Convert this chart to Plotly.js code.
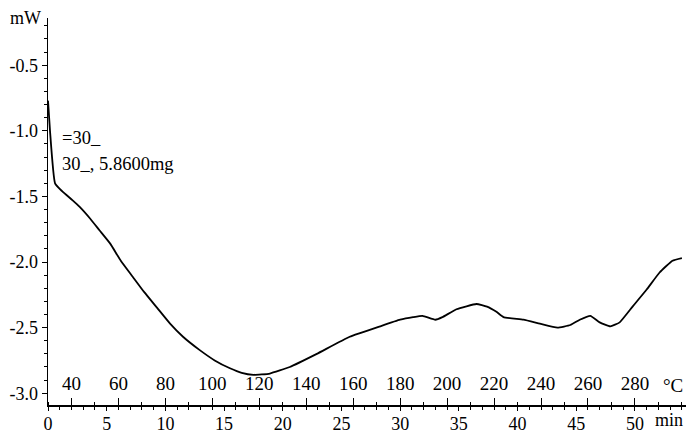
<!DOCTYPE html>
<html>
<head>
<meta charset="utf-8">
<script src="https://cdn.plot.ly/plotly-3.0.1.min.js"></script>
<style>html,body{margin:0;padding:0;background:#fff;}</style>
</head>
<body>
<div id="chart" style="width:687px;height:436px;"></div>
<script>
// Time (min) and heat flow (mW)
const timeMin = [0, 0.17, 0.6, 1.2, 2.1, 2.7, 3.6, 4.4, 5.3, 6.2, 7.2, 8.2, 9.3, 10.4, 11.5, 12.9, 14.2, 15.5, 16.5, 17.5, 18.9, 20.6, 22.9, 25.7, 28.3, 30.0, 31.1, 31.9, 33.0, 33.6, 34.8, 36.5, 37.4, 38.2, 38.8, 40.5, 41.9, 43.4, 44.5, 45.3, 46.2, 47.0, 47.9, 48.7, 49.8, 51.0, 52.1, 53.2, 54.0];
const heatFlow = [-0.77, -1.00, -1.40, -1.46, -1.53, -1.58, -1.67, -1.76, -1.86, -1.99, -2.11, -2.23, -2.35, -2.47, -2.57, -2.67, -2.75, -2.81, -2.845, -2.86, -2.85, -2.80, -2.70, -2.57, -2.49, -2.44, -2.42, -2.41, -2.44, -2.42, -2.36, -2.32, -2.34, -2.38, -2.42, -2.44, -2.47, -2.50, -2.48, -2.44, -2.41, -2.46, -2.49, -2.46, -2.34, -2.21, -2.08, -1.99, -1.97];
const minuteTicks = [0, 5, 10, 15, 20, 25, 30, 35, 40, 45, 50];
const tempTicks = [40, 60, 80, 100, 120, 140, 160, 180, 200, 220, 240, 260, 280];
const yTickVals = [-3.0, -2.5, -2.0, -1.5, -1.0, -0.5];
const yTickText = ['-3.0', '-2.5', '-2.0', '-1.5', '-1.0', '-0.5'];
const startTemp = 30, heatRate = 5;
const xRange = [0, 54.35];
const yRange = [-3.09, -0.14];

const trace = {
  x: timeMin, y: heatFlow, type: 'scatter', mode: 'lines',
  line: {color: '#000', width: 1.8, shape: 'spline', smoothing: 0.4},
  hoverinfo: 'skip', showlegend: false
};

const font = {family: 'Liberation Serif, Times New Roman, serif', size: 18, color: '#000'};

const layout = {
  width: 687, height: 436,
  margin: {l: 48, r: 1, t: 18, b: 31, pad: 0},
  paper_bgcolor: '#fff', plot_bgcolor: '#fff',
  font: font, showlegend: false,
  xaxis: {
    range: xRange, tickvals: minuteTicks, ticktext: minuteTicks.map(String),
    ticks: 'outside', ticklen: 4, tickwidth: 1, tickcolor: '#000',
    showline: true, linewidth: 2, linecolor: '#000',
    showgrid: false, zeroline: false, tickfont: {size: 18},
    ticklabelstandoff: -3,
    minor: {dtick: 1, ticks: 'outside', ticklen: 3, tickcolor: '#000', showgrid: false}
  },
  xaxis2: {
    overlaying: 'x', anchor: 'free', position: 0, side: 'top',
    range: xRange.map(v => startTemp + heatRate * v),
    tickvals: tempTicks, ticktext: tempTicks.map(String),
    ticks: 'outside', ticklen: 7, tickwidth: 1, tickcolor: '#000',
    showline: false, showgrid: false, zeroline: false, tickfont: {size: 19},
    minor: {dtick: 10, ticks: 'outside', ticklen: 3, tickcolor: '#000', showgrid: false}
  },
  yaxis: {
    range: yRange, tickvals: yTickVals, ticktext: yTickText,
    ticks: 'outside', ticklen: 5, tickwidth: 1, tickcolor: '#000',
    showline: true, linewidth: 1.5, linecolor: '#000',
    showgrid: false, zeroline: false, tickfont: {size: 18},
    ticklabelstandoff: 0,
    minor: {dtick: 0.1, ticks: 'outside', ticklen: 3, tickcolor: '#000', showgrid: false}
  },
  annotations: [
    {text: 'mW', xref: 'paper', yref: 'paper', x: 0, y: 1, xanchor: 'right', yanchor: 'middle', xshift: -5, showarrow: false, font: {size: 18}},
    {text: '=30_', xref: 'x', yref: 'y', x: 1.0, y: -1.056, xanchor: 'left', yanchor: 'middle', showarrow: false, font: {size: 18.5}},
    {text: '30_, 5.8600mg', xref: 'x', yref: 'y', x: 1.0, y: -1.25, xanchor: 'left', yanchor: 'middle', showarrow: false, font: {size: 18.5}},
    {text: 'min', xref: 'paper', yref: 'paper', x: 0.974, y: 0, xanchor: 'center', yanchor: 'middle', yshift: -15, showarrow: false, font: {size: 18}},
    {text: '°C', xref: 'paper', yref: 'paper', x: 0.98, y: 0, xanchor: 'center', yanchor: 'middle', yshift: 20, showarrow: false, font: {size: 19}}
  ]
};

Plotly.newPlot('chart', [trace, {x: [], y: [], xaxis: 'x2', yaxis: 'y', type: 'scatter', showlegend: false}], layout, {staticPlot: true, displayModeBar: false});
</script>
</body>
</html>
